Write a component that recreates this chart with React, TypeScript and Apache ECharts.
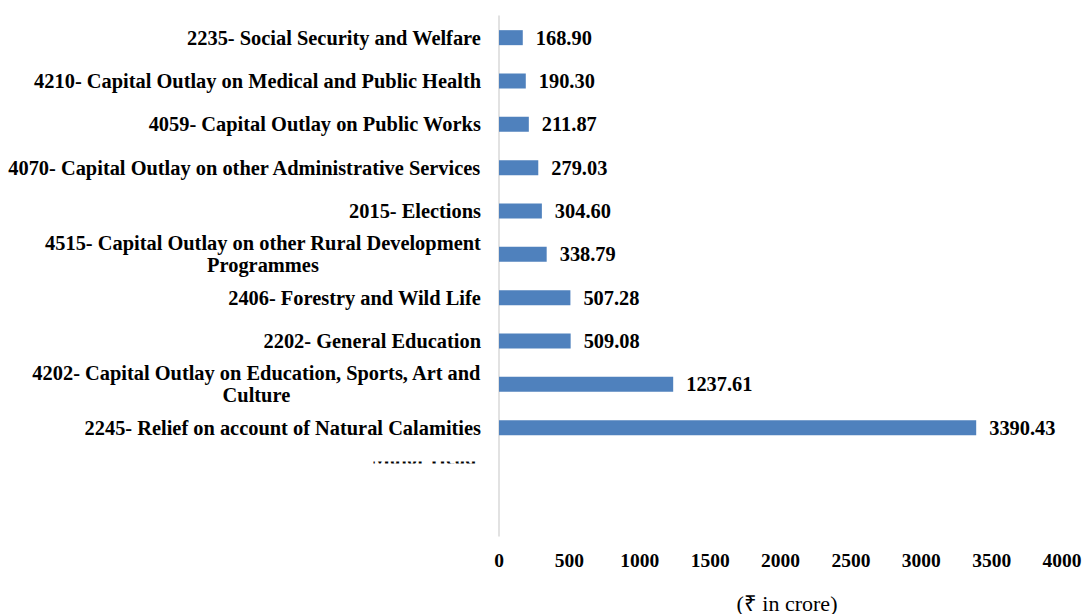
import React, { useEffect, useRef } from "react";
import * as echarts from "echarts";

const categories = [
  "2235- Social Security and Welfare",
  "4210- Capital Outlay on Medical and Public Health",
  "4059- Capital Outlay on Public Works",
  "4070- Capital Outlay on other Administrative Services",
  "2015- Elections",
  "4515- Capital Outlay on other Rural Development\nProgrammes",
  "2406- Forestry and Wild Life",
  "2202- General Education",
  "4202- Capital Outlay on Education, Sports, Art and\nCulture",
  "2245- Relief on account of Natural Calamities",
  " ",
  "  ",
];
const values: (number | null)[] = [
  168.9, 190.3, 211.87, 279.03, 304.6, 338.79, 507.28, 509.08, 1237.61, 3390.43, null, null,
];
const axisTitle = "(₹ in crore)";
const hiddenLabel = "Major Head";

const FONT = '"Liberation Serif", "Times New Roman", serif';

export default function App() {
  const ref = useRef<HTMLDivElement>(null);
  useEffect(() => {
    if (!ref.current) return;
    const chart = echarts.init(ref.current, undefined, { renderer: "svg" });
    chart.setOption({
      animation: false,
      backgroundColor: "#ffffff",
      grid: { left: 499, right: 24, top: 16, bottom: 78, containLabel: false },
      xAxis: {
        type: "value",
        min: 0,
        max: 4000,
        interval: 500,
        axisLine: { show: false },
        axisTick: { show: false },
        splitLine: { show: false },
        axisLabel: {
          margin: 14,
          color: "#000",
          fontFamily: FONT,
          fontWeight: "bold",
          fontSize: 19.5,
          formatter: (v: number) => String(v),
        },
      },
      yAxis: {
        type: "category",
        inverse: true,
        data: categories,
        axisLine: { show: true, lineStyle: { color: "#d9d9d9", width: 1.5 } },
        axisTick: { show: false },
        splitLine: { show: false },
        axisLabel: {
          margin: 18,
          align: "right",
          interval: 0,
          formatter: (v: string) =>
            v
              .split("\n")
              .map((l) => `{c|${l}}`)
              .join("\n"),
          rich: {
            c: {
              align: "center",
              color: "#000",
              fontFamily: FONT,
              fontWeight: "bold",
              fontSize: 20.4,
              lineHeight: 22,
            },
          },
        },
      },
      series: [
        {
          type: "bar",
          data: values,
          barWidth: 15,
          itemStyle: { color: "#4f81bd" },
          label: {
            show: true,
            position: "right",
            distance: 13,
            color: "#000",
            fontFamily: FONT,
            fontWeight: "bold",
            fontSize: 20.4,
            formatter: (p: any) => (p.value == null ? "" : Number(p.value).toFixed(2)),
          },
        },
      ],
      graphic: [
        {
          type: "text",
          z: 10,
          style: {
            text: hiddenLabel,
            x: 476,
            y: 467.5,
            align: "right",
            verticalAlign: "bottom",
            fill: "#000",
            font: `bold 20px ${FONT}`,
          },
        },
        {
          type: "rect",
          z: 11,
          shape: { x: 340, y: 440, width: 150, height: 21.5 },
          style: { fill: "#ffffff" },
        },
        {
          type: "rect",
          z: 11,
          shape: { x: 340, y: 463.5, width: 150, height: 12 },
          style: { fill: "#ffffff" },
        },
        {
          type: "text",
          z: 10,
          style: {
            text: axisTitle,
            x: 787,
            y: 592,
            align: "center",
            verticalAlign: "top",
            fill: "#000",
            font: `22px ${FONT}`,
          },
        },
      ],
    });
    return () => chart.dispose();
  }, []);
  return (
    <div
      ref={ref}
      style={{ position: "fixed", left: 0, top: 0, width: 1086, height: 614 }}
    />
  );
}
